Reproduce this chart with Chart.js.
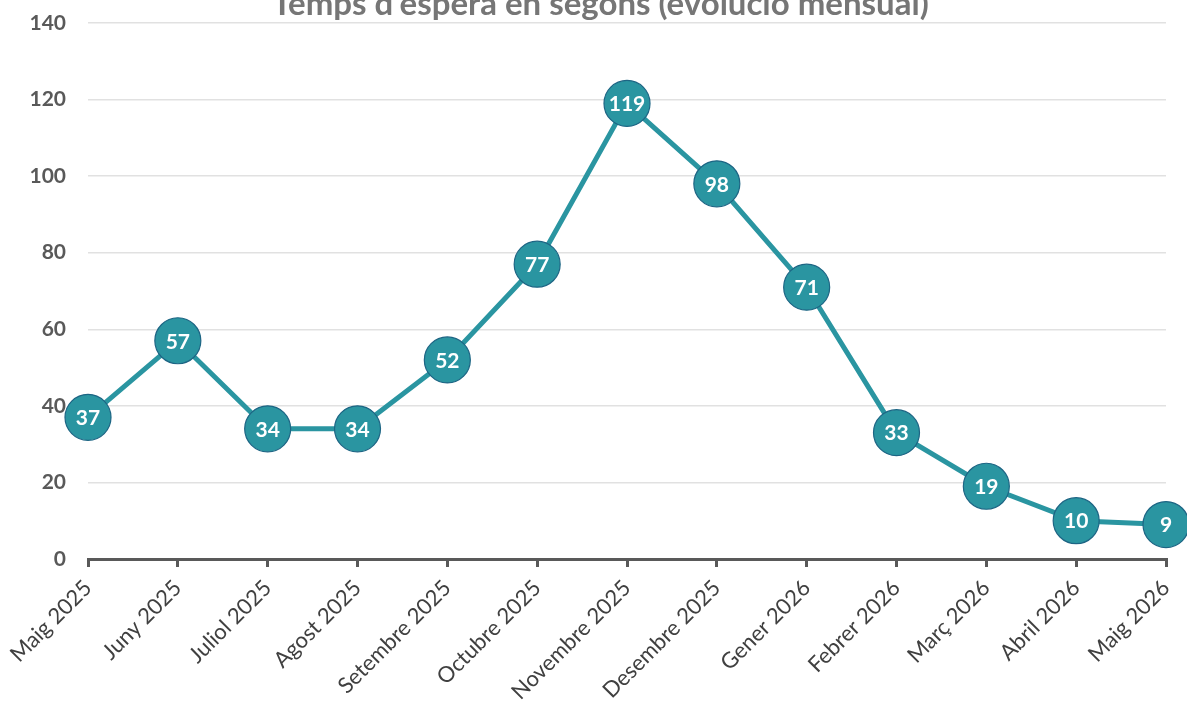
<!DOCTYPE html>
<html>
<head>
<meta charset="utf-8">
<script src="https://cdn.jsdelivr.net/npm/chart.js@4"></script>
<style>
  html, body { margin: 0; padding: 0; background: #fff; }
  #wrap { width: 1187px; height: 701px; position: relative; }
</style>
</head>
<body>
<div id="wrap"><canvas id="myChart"></canvas></div>
<script>
const title = "Temps d'espera en segons (evolució mensual)";
const months = ['Maig 2025', 'Juny 2025', 'Juliol 2025', 'Agost 2025', 'Setembre 2025', 'Octubre 2025',
    'Novembre 2025', 'Desembre 2025', 'Gener 2026', 'Febrer 2026', 'Març 2026', 'Abril 2026', 'Maig 2026'];
const waitSeconds = [37, 57, 34, 34, 52, 77, 119, 98, 71, 33, 19, 10, 9];
const yMax = 140;
const yStep = 20;

const teal = '#2a95a1';
const font = 'Lato, "Open Sans", sans-serif';

// title is drawn by hand so it can sit partly above the canvas like in the original
const titlePlugin = {
    id: 'topTitle',
    afterDraw: (chart) => {
        const c = chart.ctx;
        c.save();
        c.font = `bold 33px ${font}`;
        c.fillStyle = '#767676';
        c.textAlign = 'center';
        c.textBaseline = 'alphabetic';
        c.fillText(title, chart.width / 2 + 7, 15);
        c.restore();
    }
};

// value labels inside the circles
const valueLabels = {
    id: 'valueLabels',
    afterDatasetsDraw: (chart) => {
        const c = chart.ctx;
        const meta = chart.getDatasetMeta(0);
        c.save();
        c.font = `bold 21px ${font}`;
        c.fillStyle = '#ffffff';
        c.textAlign = 'center';
        c.textBaseline = 'middle';
        meta.data.forEach((pt, i) => {
            c.fillText(String(waitSeconds[i]), pt.x, pt.y + 1);
        });
        c.restore();
    }
};

let ctx = document.getElementById('myChart').getContext('2d');
let chart = new Chart(ctx, {
    type: 'line',
    data: {
        labels: months,
        datasets: [{
            data: waitSeconds,
            borderColor: teal,
            borderWidth: 5,
            backgroundColor: teal,
            pointBackgroundColor: teal,
            pointBorderColor: '#1d6584',
            pointBorderWidth: 1.2,
            pointRadius: 23,
            pointHoverRadius: 23,
            tension: 0,
            clip: false,
        }]
    },
    options: {
        responsive: true,
        maintainAspectRatio: false,
        animation: false,
        layout: {
            autoPadding: false,
            padding: { top: 23, right: 21, bottom: 0, left: 0 }
        },
        plugins: {
            legend: { display: false },
            title: { display: false },
            tooltip: { enabled: false },
        },
        scales: {
            x: {
                offset: false,
                grid: {
                    drawOnChartArea: false,
                    drawTicks: true,
                    tickLength: 8,
                    color: '#595959',
                    lineWidth: 3,
                },
                border: { display: true, color: '#595959', width: 3 },
                ticks: {
                    color: '#404040',
                    font: { family: font, size: 22 },
                    minRotation: 45,
                    maxRotation: 45,
                    padding: 8,
                    autoSkip: false,
                },
                afterFit: (scale) => {
                    scale.height = 701 - 559;
                    scale.paddingLeft = 0;
                    scale.paddingRight = 0;
                },
            },
            y: {
                min: 0,
                max: yMax,
                grid: {
                    color: '#e1e1e1',
                    lineWidth: 1.5,
                    drawTicks: false,
                },
                border: { display: false },
                ticks: {
                    stepSize: yStep,
                    color: '#595959',
                    font: { family: font, size: 21, weight: 'bold' },
                    padding: 22,
                },
                afterFit: (scale) => {
                    scale.width = 88;
                    scale.paddingTop = 0;
                    scale.paddingBottom = 0;
                },
            }
        }
    },
    plugins: [titlePlugin, valueLabels]
});
</script>
</body>
</html>
